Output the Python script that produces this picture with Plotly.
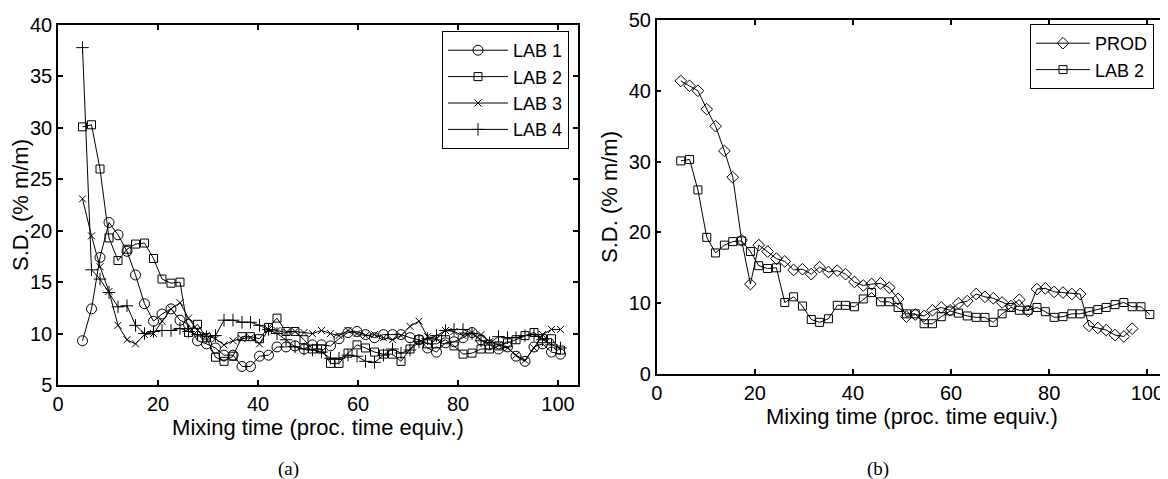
import plotly.graph_objects as go

# mixing time (proc. time equiv.) of each sample
TIME = [4.9, 6.7, 8.4, 10.2, 12.0, 13.8, 15.5, 17.3, 19.1, 20.8,
        22.6, 24.4, 26.1, 27.9, 29.7, 31.5, 33.2, 35.0, 36.8, 38.5,
        40.3, 42.1, 43.8, 45.6, 47.4, 49.2, 50.9, 52.7, 54.5, 56.2,
        58.0, 59.8, 61.5, 63.3, 65.1, 66.9, 68.6, 70.4, 72.2, 73.9,
        75.7, 77.5, 79.2, 81.0, 82.8, 84.6, 86.3, 88.1, 89.9, 91.6,
        93.4, 95.2, 96.9, 98.7, 100.5]

LAB1 = [9.3, 12.4, 17.4, 20.8, 19.6, 18.0, 15.7, 12.9, 11.2, 11.9,
        12.4, 11.3, 10.9, 9.3, 9.0, 8.6, 7.9, 7.9, 6.8, 6.8,
        7.8, 7.9, 8.7, 8.7, 8.8, 8.5, 8.9, 8.9, 8.8, 9.5,
        10.1, 10.2, 9.9, 9.6, 9.9, 9.9, 9.9, 9.6, 9.4, 8.6,
        8.2, 9.1, 9.2, 9.6, 10.1, 9.4, 8.9, 8.5, 8.7, 7.8,
        7.3, 8.7, 9.0, 8.2, 8.0]

LAB2 = [30.1, 30.3, 26.0, 19.3, 17.1, 18.2, 18.7, 18.8, 17.3, 15.3,
        14.9, 15.0, 10.1, 10.9, 9.6, 7.7, 7.3, 7.8, 9.7, 9.7,
        9.5, 10.6, 11.5, 10.2, 10.2, 9.4, 8.5, 8.5, 7.1, 7.1,
        8.1, 8.9, 8.6, 8.2, 8.0, 8.0, 7.3, 8.5, 9.4, 9.0,
        9.0, 9.4, 8.8, 8.0, 8.1, 8.5, 8.5, 8.8, 9.1, 9.4,
        9.8, 10.1, 9.5, 9.5, 8.4]

LAB3 = [23.1, 19.5, 16.5, 14.1, 10.8, 9.4, 9.0, 9.9, 10.0, 11.2,
        12.4, 13.0, 11.5, 10.3, 9.8, 9.5, 8.9, 9.3, 9.5, 9.6,
        9.0, 10.4, 10.3, 10.1, 10.2, 10.1, 10.0, 10.3, 10.0, 9.8,
        10.3, 10.0, 9.8, 9.9, 9.6, 9.4, 9.8, 10.7, 11.2, 9.7,
        9.5, 10.3, 10.2, 9.8, 10.1, 9.9, 9.2, 8.9, 8.6, 7.9,
        7.4, 8.6, 9.9, 10.4, 10.4]

LAB4 = [37.8, 16.2, 15.3, 14.0, 12.6, 12.7, 10.8, 10.0, 10.2, 10.3,
        10.3, 10.5, 10.2, 9.9, 9.7, 9.8, 11.3, 11.3, 11.1, 11.1,
        10.8, 10.4, 10.0, 9.4, 8.7, 8.5, 8.4, 8.2, 7.6, 7.6,
        7.9, 7.8, 7.3, 7.2, 7.9, 8.5, 8.1, 8.4, 9.2, 9.5,
        9.8, 10.3, 10.4, 10.4, 10.0, 9.3, 9.1, 9.7, 9.6, 9.6,
        9.8, 9.9, 9.4, 8.9, 8.6]

PROD = [41.4, 40.7, 40.0, 37.4, 35.0, 31.5, 27.8, 18.9, 12.7, 18.2,
        17.3, 16.3, 15.9, 14.7, 14.8, 14.1, 15.1, 14.4, 14.6, 14.1,
        13.0, 12.5, 12.7, 12.8, 12.2, 10.6, 8.1, 8.4, 8.2, 9.0,
        9.4, 9.0, 10.0, 10.3, 11.3, 10.9, 10.7, 10.1, 9.6, 10.5,
        8.9, 12.0, 12.1, 11.6, 11.5, 11.3, 11.3, 6.8, 6.5, 6.2,
        5.5, 5.3, 6.4]

X_TICKS = [0, 20, 40, 60, 80, 100]
Y_TICKS_A = [5, 10, 15, 20, 25, 30, 35, 40]
Y_TICKS_B = [0, 10, 20, 30, 40, 50]

# page body has an 8px margin, so the figure is drawn 8px in from the window corner
PAD = 8
W, H = 1168 - PAD, 479 - PAD
SANS = "Liberation Sans, Arial, sans-serif"

fig = go.Figure()

def add(name, x, y, symbol, size, xa, ya, legend):
    fig.add_trace(go.Scatter(
        x=x, y=y, name=name, mode="lines+markers",
        line=dict(color="black", width=1),
        marker=dict(symbol=symbol, size=size, color="black",
                    line=dict(color="black", width=1)),
        xaxis=xa, yaxis=ya, legend=legend, cliponaxis=False))

# panel (a)
add("LAB 1", TIME[:len(LAB1)], LAB1, "circle-open", 10, "x", "y", "legend")
add("LAB 2", TIME[:len(LAB2)], LAB2, "square-open", 8, "x", "y", "legend")
add("LAB 3", TIME[:len(LAB3)], LAB3, "x-thin-open", 7, "x", "y", "legend")
add("LAB 4", TIME[:len(LAB4)], LAB4, "cross-thin-open", 9, "x", "y", "legend")
# panel (b)
add("PROD", TIME[:len(PROD)], PROD, "diamond-open", 9, "x2", "y2", "legend2")
add("LAB 2", TIME[:len(LAB2)], LAB2, "square-open", 8, "x2", "y2", "legend2")

# window pixel -> paper fraction
def px_x(p):
    return (p - PAD) / W

def px_y(p):
    return 1 - (p - PAD) / H

axis_common = dict(showline=True, linecolor="black", linewidth=1.5, mirror="ticks",
                   ticks="inside", ticklen=5, tickcolor="black", tickwidth=1.5,
                   showgrid=False, zeroline=False, automargin=False,
                   tickfont=dict(family=SANS, size=20, color="black"))
title_font = dict(family=SANS, size=22, color="black")
legend_font = dict(family=SANS, size=18, color="black")

fig.update_layout(
    width=W, height=H,
    margin=dict(l=0, r=0, t=0, b=0),
    paper_bgcolor="white", plot_bgcolor="white",
    showlegend=True,
    xaxis=dict(axis_common, domain=[px_x(58), px_x(578)], range=[0, 104],
               tickvals=X_TICKS, anchor="y",
               title=dict(text="Mixing time (proc. time equiv.)", standoff=1, font=title_font)),
    yaxis=dict(axis_common, domain=[px_y(385), px_y(25)], range=[5, 40],
               tickvals=Y_TICKS_A, anchor="x",
               title=dict(text="S.D. (% m/m)", standoff=0, font=title_font)),
    xaxis2=dict(axis_common, domain=[px_x(656.7), min(1.0, px_x(1167))], range=[0, 104],
                tickvals=X_TICKS, anchor="y2",
                title=dict(text="Mixing time (proc. time equiv.)", standoff=1, font=title_font)),
    yaxis2=dict(axis_common, domain=[px_y(374), px_y(20)], range=[0, 50],
                tickvals=Y_TICKS_B, anchor="x2",
                title=dict(text="S.D. (% m/m)", standoff=5, font=title_font)),
    legend=dict(x=px_x(442), y=px_y(31), xanchor="left", yanchor="top",
                bgcolor="white", bordercolor="black", borderwidth=1,
                font=legend_font, tracegroupgap=0, itemwidth=60),
    legend2=dict(x=px_x(1030), y=px_y(24), xanchor="left", yanchor="top",
                 bgcolor="white", bordercolor="black", borderwidth=1,
                 font=legend_font, tracegroupgap=0, itemwidth=54),
)

caption_font = dict(family="Liberation Serif, serif", size=19, color="black")
fig.add_annotation(text="(a)", x=px_x(288), y=px_y(469), xref="paper", yref="paper",
                   xanchor="center", yanchor="middle", showarrow=False, font=caption_font)
fig.add_annotation(text="(b)", x=px_x(878), y=px_y(469), xref="paper", yref="paper",
                   xanchor="center", yanchor="middle", showarrow=False, font=caption_font)

fig.write_html("out.html")
